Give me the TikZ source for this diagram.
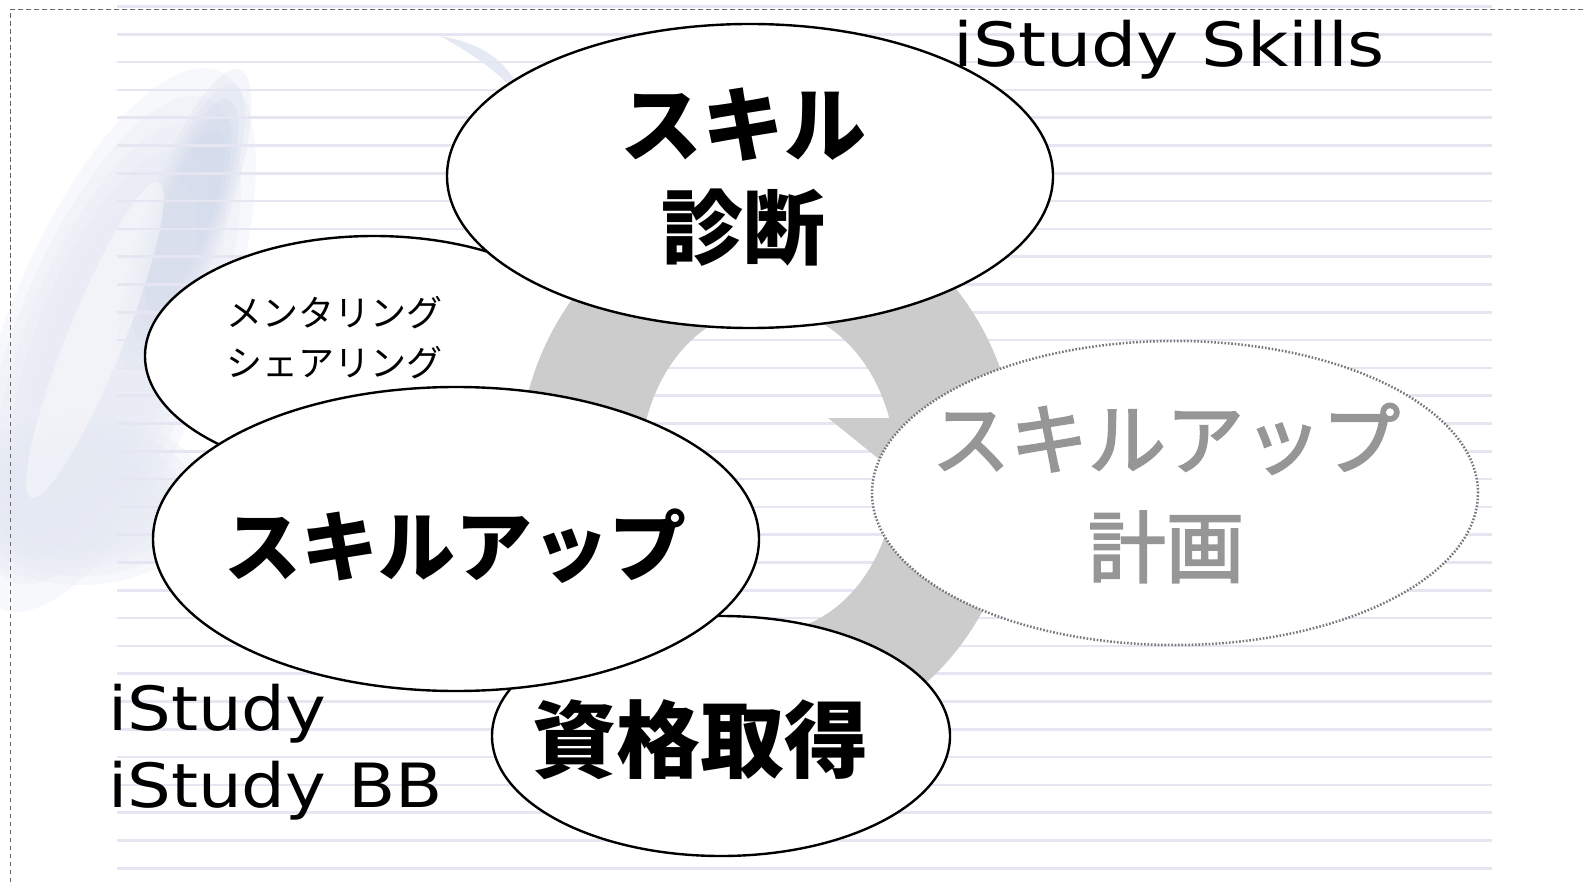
\documentclass[tikz,border=0pt]{standalone}
\usepackage{fontspec}
\newfontfamily\jp{Noto Sans CJK JP}
\newfontfamily\jpmed{Noto Sans CJK JP}[FakeBold=2.5]
\newfontfamily\lattop{DejaVu Sans}[FakeStretch=1.17]
\newfontfamily\latbot{DejaVu Sans}[FakeStretch=1.13]
\usetikzlibrary{shapes.geometric}
\definecolor{ringgray}{HTML}{CCCCCC}
\definecolor{rulecol}{HTML}{E6E6F2}
\definecolor{logoA}{HTML}{C9D3E8}
\definecolor{logoB}{HTML}{E4E8F2}
\definecolor{plangray}{HTML}{969696}
\definecolor{dotgray}{HTML}{777777}
\definecolor{framegray}{HTML}{666666}
\begin{document}
\begin{tikzpicture}[x=1pt,y=-1pt,
  bub/.style={ellipse, draw=black, line width=2.4pt, fill=white, inner sep=0pt},
  bigbub/.style={bub, minimum width=606pt, minimum height=304pt},
  smallbub/.style={bub, minimum width=458pt, minimum height=240pt},
  jpbold/.style={inner sep=0pt, align=center, font=\jp\bfseries},
  jpplain/.style={inner sep=0pt, font=\jp},
  latintop/.style={inner sep=0pt, font=\lattop\fontsize{61}{77}\selectfont},
  latinbot/.style={inner sep=0pt, font=\latbot\fontsize{61}{77}\selectfont}]
\useasboundingbox (0,0) rectangle (1586,882);
% background logo (soft, layered to look blurred)
\foreach \s in {1.0,0.9,0.8,0.7,0.6}{
  \fill[logoB, opacity=0.3, rotate around={68:(110,340)}] (110,340) ellipse [x radius={290*\s}, y radius={105*\s}];
  \fill[logoB, opacity=0.3] (80,500) ellipse [x radius={130*\s}, y radius={85*\s}];
  \fill[logoA, opacity=0.2, rotate around={70:(185,220)}] (185,220) ellipse [x radius={160*\s}, y radius={40*\s}];
}
\fill[white, opacity=0.4, rotate around={68:(95,340)}] (95,340) ellipse [x radius=170, y radius=28];
\fill[logoA, opacity=0.5] (440,36) .. controls (490,44) and (515,70) .. (522,100) .. controls (505,78) and (480,58) .. (440,36) -- cycle;
% ruled lines
\foreach \i in {0,...,31}
  \draw[rulecol, line width=2.5pt] (117,{6.5+27.8*\i}) -- (1492,{6.5+27.8*\i});
% frame
\draw[framegray, line width=1pt, dash pattern=on 4.5pt off 3.5pt] (10,882) -- (10,10) -- (1586,10);
% mentoring bubble (behind the arrow)
\node[smallbub] (mentor) at (374,356) {};
\node[jpplain, anchor=west, align=left, font=\jp\fontsize{36}{50}\selectfont] (mentortext) at (226,338) {メンタリング\\シェアリング};
% circular arrow
\fill[ringgray] plot[domain=-15:-349.1, samples=140] ({768+250*cos(\x)},{470-275*sin(\x)})
  -- (1074,418) -- (951,517) -- (828,418) -- (889,418)
  -- plot[domain=-341.3:-15, samples=140] ({768+128*cos(\x)},{470-162*sin(\x)}) -- cycle;
% bubbles
\node[smallbub] (cert) at (721,736) {};
\node[jpbold, font=\jp\bfseries\fontsize{84}{100}\selectfont] (certtext) at (700,740) {資格取得};
\node[bigbub] (diag) at (750,176) {};
\node[jpbold, font=\jp\bfseries\fontsize{82}{103}\selectfont] (diagtext) at (743,177) {スキル\\診断};
\node[bigbub] (up) at (456,539) {};
\node[jpbold, font=\jp\bfseries\fontsize{77}{90}\selectfont] (uptext) at (455,546) {スキルアップ};
\node[bub, draw=dotgray, line width=2.5pt, dash pattern=on 1.6pt off 1.8pt, minimum width=606pt, minimum height=304pt] (plan) at (1175,493) {};
\node[inner sep=0pt, align=center, text=plangray, font=\jpmed\fontsize{78}{108}\selectfont] (plantext) at (1166,493) {スキルアップ\\計画};
% latin labels
\node[latintop, anchor=base west] (skills) at (953,67) {iStudy Skills};
\node[latinbot, anchor=base west] (istudy) at (108,730) {iStudy};
\node[latinbot, anchor=base west] (istudybb) at (108,807) {iStudy BB};
\end{tikzpicture}
\end{document}
